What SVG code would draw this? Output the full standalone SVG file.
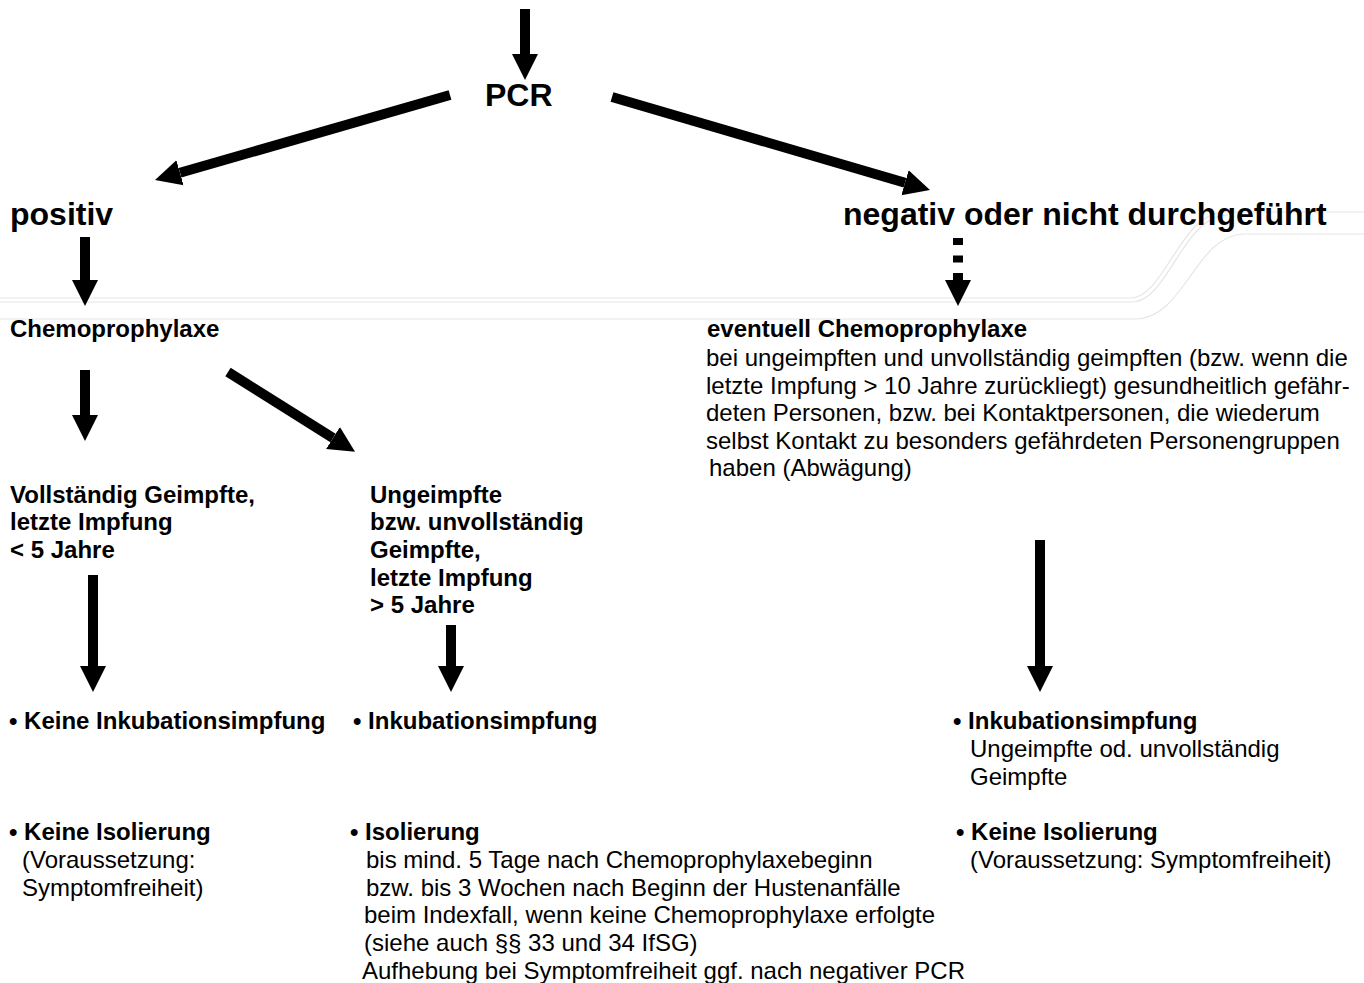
<svg xmlns="http://www.w3.org/2000/svg" width="1364" height="983" viewBox="0 0 1364 983">
<style>
text{font-family:"Liberation Sans",Arial,sans-serif;fill:#000}
.h{font-size:32px;font-weight:bold}
.b{font-size:24px;font-weight:bold}
.r{font-size:24px}
.arr{stroke:#000;stroke-width:10;fill:none;marker-end:url(#head)}
.faint{stroke:#e6e6e6;stroke-width:1.2;fill:none}
</style>
<defs>
<marker id="head" viewBox="0 0 10 10" refX="0" refY="5" markerWidth="2.6" markerHeight="2.9" markerUnits="strokeWidth" orient="auto">
<path d="M0,0 L10,5 L0,10 z" fill="#000"/>
</marker>
</defs>
<rect width="1364" height="983" fill="#fff"/>
<g id="background-lines">
<path class="faint" d="M0,298 H1130 C1165,298 1180,212 1225,212 H1364"/>
<path class="faint" d="M0,302 H1132 C1168,302 1183,215 1228,215"/>
<path class="faint" d="M0,319 H1135 C1185,319 1195,234 1245,234 H1364"/>
</g>
<g id="connectors">
<line class="arr" x1="525" y1="9" x2="525" y2="54"/>
<line class="arr" x1="450" y1="95" x2="180" y2="172.8"/>
<line class="arr" x1="612" y1="97" x2="905" y2="182.7"/>
<line class="arr" x1="85" y1="237" x2="85" y2="280"/>
<line class="arr" x1="958" y1="238" x2="958" y2="280" stroke-dasharray="7 10.5"/>
<line class="arr" x1="85" y1="370" x2="85" y2="415"/>
<line class="arr" x1="228" y1="372" x2="333" y2="438"/>
<line class="arr" x1="93" y1="575" x2="93" y2="666"/>
<line class="arr" x1="451" y1="625" x2="451" y2="666"/>
<line class="arr" x1="1040" y1="540" x2="1040" y2="666"/>
</g>
<g id="pcr"><text class="h" x="485" y="106">PCR</text></g>
<g id="positiv"><text class="h" x="10" y="225">positiv</text></g>
<g id="negativ"><text class="h" x="843" y="225">negativ oder nicht durchgeführt</text></g>
<g id="chemo"><text class="b" x="10" y="337">Chemoprophylaxe</text></g>
<g id="eventuell">
<text class="b" x="707" y="337">eventuell Chemoprophylaxe</text>
<text class="r" x="706" y="366">bei ungeimpften und unvollständig geimpften (bzw. wenn die</text>
<text class="r" x="706" y="393.5">letzte Impfung &gt; 10 Jahre zurückliegt) gesundheitlich gefähr-</text>
<text class="r" x="706" y="421">deten Personen, bzw. bei Kontaktpersonen, die wiederum</text>
<text class="r" x="706" y="449">selbst Kontakt zu besonders gefährdeten Personengruppen</text>
<text class="r" x="709" y="476">haben (Abwägung)</text>
</g>
<g id="vollstaendig">
<text class="b" x="10" y="503">Vollständig Geimpfte,</text>
<text class="b" x="10" y="530">letzte Impfung</text>
<text class="b" x="10" y="558">&lt; 5 Jahre</text>
</g>
<g id="ungeimpfte">
<text class="b" x="370" y="503">Ungeimpfte</text>
<text class="b" x="370" y="530">bzw. unvollständig</text>
<text class="b" x="370" y="558">Geimpfte,</text>
<text class="b" x="370" y="586">letzte Impfung</text>
<text class="b" x="370" y="613">&gt; 5 Jahre</text>
</g>
<g id="keine-inkubation"><text class="b" x="9" y="729">• Keine Inkubationsimpfung</text></g>
<g id="inkubation-mid"><text class="b" x="353" y="729">• Inkubationsimpfung</text></g>
<g id="inkubation-right">
<text class="b" x="953" y="729">• Inkubationsimpfung</text>
<text class="r" x="970" y="757">Ungeimpfte od. unvollständig</text>
<text class="r" x="970" y="785">Geimpfte</text>
</g>
<g id="keine-isolierung-left">
<text class="b" x="9" y="840">• Keine Isolierung</text>
<text class="r" x="22" y="868">(Voraussetzung:</text>
<text class="r" x="22" y="896">Symptomfreiheit)</text>
</g>
<g id="isolierung-mid">
<text class="b" x="350" y="840">• Isolierung</text>
<text class="r" x="366" y="868">bis mind. 5 Tage nach Chemoprophylaxebeginn</text>
<text class="r" x="366" y="896">bzw. bis 3 Wochen nach Beginn der Hustenanfälle</text>
<text class="r" x="364" y="923">beim Indexfall, wenn keine Chemoprophylaxe erfolgte</text>
<text class="r" x="364" y="951">(siehe auch §§ 33 und 34 IfSG)</text>
<text class="r" x="362" y="979">Aufhebung bei Symptomfreiheit ggf. nach negativer PCR</text>
</g>
<g id="keine-isolierung-right">
<text class="b" x="956" y="840">• Keine Isolierung</text>
<text class="r" x="970" y="868">(Voraussetzung: Symptomfreiheit)</text>
</g>
</svg>
